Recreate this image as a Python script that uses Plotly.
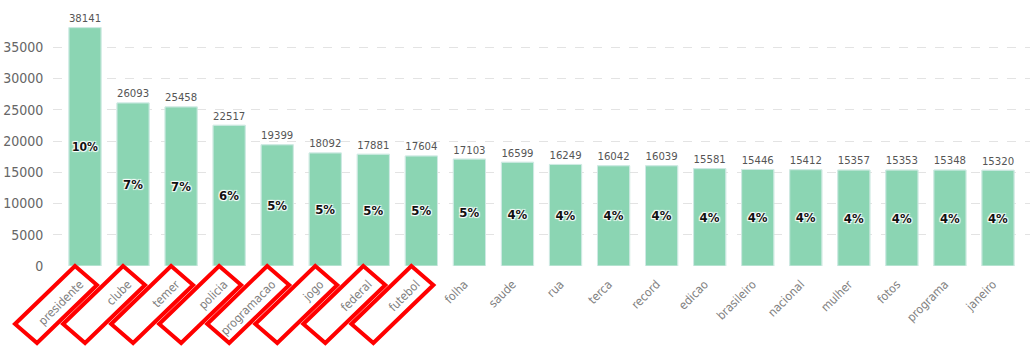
import plotly.graph_objects as go

words = ["presidente", "clube", "temer", "policia", "programacao", "jogo", "federal",
         "futebol", "folha", "saude", "rua", "terca", "record", "edicao", "brasileiro",
         "nacional", "mulher", "fotos", "programa", "janeiro"]
counts = [38141, 26093, 25458, 22517, 19399, 18092, 17881, 17604, 17103, 16599,
          16249, 16042, 16039, 15581, 15446, 15412, 15357, 15353, 15348, 15320]
pct_labels = ["10%", "7%", "7%", "6%", "5%", "5%", "5%", "5%", "5%", "4%",
              "4%", "4%", "4%", "4%", "4%", "4%", "4%", "4%", "4%", "4%"]
highlighted = ["presidente", "clube", "temer", "policia", "programacao", "jogo",
               "federal", "futebol"]
y_ticks = [0, 5000, 10000, 15000, 20000, 25000, 30000, 35000]

FONT = "Liberation Sans Narrow, DejaVu Sans Condensed, sans-serif"
BAR = "#8BD5B3"
XMIN, XMAX = -0.666, 19.666

fig = go.Figure()
fig.add_trace(go.Bar(
    x=words, y=counts, text=[str(c) for c in counts], textposition="outside",
    textangle=0, cliponaxis=False,
    textfont=dict(family=FONT, size=13, color="#555555"),
    marker=dict(color=BAR, line=dict(color="#B9E6D1", width=1)),
    hoverinfo="skip", showlegend=False,
))
fig.add_trace(go.Bar(
    x=words, y=counts, text=pct_labels, textposition="inside",
    insidetextanchor="middle", textangle=0, cliponaxis=False,
    textfont=dict(family=FONT, size=13, color="#111111", weight="bold",
                  shadow="1px 1px 1px #fff, -1px -1px 1px #fff, 1px -1px 1px #fff, -1px 1px 1px #fff"),
    marker=dict(color="rgba(0,0,0,0)"),
    hoverinfo="skip", showlegend=False,
))

# red highlight frames around the first labels (pixel-sized, anchored at each category)
frame = "M -10 0 L 12 -19 L -48 -77 L -70 -58 Z"
for w in highlighted:
    i = words.index(w)
    fig.add_shape(type="path", xref="x domain", yref="paper", xsizemode="pixel",
                  ysizemode="pixel", xanchor=(i - XMIN) / (XMAX - XMIN), yanchor=0,
                  path=frame, line=dict(color="#FF0000", width=4), layer="above")

fig.update_layout(
    width=1034, height=347,
    margin=dict(l=53, r=4, t=16, b=81),
    barmode="overlay", bargap=0.33,
    plot_bgcolor="white", paper_bgcolor="white",
    font=dict(family=FONT),
    xaxis=dict(range=[XMIN, XMAX], tickangle=-45, showgrid=False,
               showline=False, zeroline=False, automargin=False,
               ticklabelshift=-5, ticklabelstandoff=8,
               tickfont=dict(family=FONT, size=12, color="#808080")),
    yaxis=dict(range=[0, 40000], tickvals=y_ticks, tickformat="d", showgrid=True,
               gridcolor="#E3E3E3", griddash="dash", gridwidth=1,
               zeroline=False, showline=False, automargin=False,
               ticks="outside", ticklen=6, tickcolor="rgba(0,0,0,0)",
               tickfont=dict(family=FONT, size=14, color="#666666")),
)

fig.write_html("out.html")
